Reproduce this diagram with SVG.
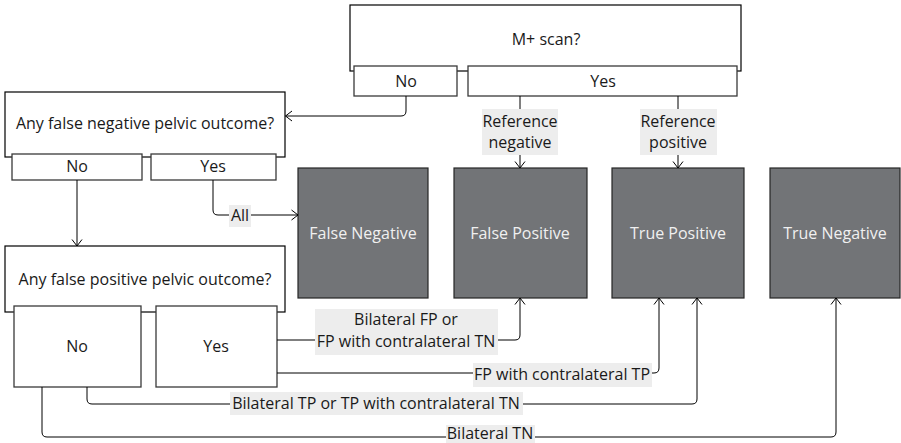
<svg xmlns="http://www.w3.org/2000/svg" width="901" height="443" viewBox="0 0 901 443">
<defs>
<style>
.box{fill:#fff;stroke:#000;stroke-width:1.2}
.sub{fill:#fff;stroke:#3a3a3a;stroke-width:1.3}
.res{fill:#727477;stroke:#262626;stroke-width:1.2}
.t{font-family:"Open Sans",Lato,sans-serif;font-size:16px;fill:#1a1a1a;text-anchor:middle}
.rt{font-family:"Open Sans",Lato,sans-serif;font-size:16px;fill:#f0f0f0;text-anchor:middle}
.lbg{fill:#ededed}
.c{fill:none;stroke:#000;stroke-width:1}
</style>
<marker id="ah" viewBox="0 0 8 12" refX="7.5" refY="6" markerWidth="8" markerHeight="12" markerUnits="userSpaceOnUse" orient="auto">
<path d="M1,1 L7.5,6 L1,11" fill="none" stroke="#000" stroke-width="1"/>
</marker>
</defs>
<rect width="901" height="443" fill="#fff"/>

<g id="mscan">
<rect class="box" x="350" y="5" width="391" height="66"/>
<text class="t" x="546" y="45">M+ scan?</text>
<rect class="sub" x="354" y="66" width="103" height="30"/>
<text class="t" x="406" y="87">No</text>
<rect class="sub" x="468" y="66" width="269" height="30"/>
<text class="t" x="603" y="87">Yes</text>
</g>

<g id="fnq">
<rect class="box" x="5" y="92" width="280" height="65"/>
<text class="t" x="145" y="129">Any false negative pelvic outcome?</text>
<rect class="sub" x="12" y="154" width="130" height="26"/>
<text class="t" x="77" y="172">No</text>
<rect class="sub" x="151" y="154" width="125" height="26"/>
<text class="t" x="213" y="172">Yes</text>
</g>

<g id="fpq">
<rect class="box" x="5" y="246" width="280" height="66"/>
<text class="t" x="145" y="285">Any false positive pelvic outcome?</text>
<rect class="sub" x="14" y="306" width="127" height="81"/>
<text class="t" x="77" y="352">No</text>
<rect class="sub" x="156" y="306" width="121" height="81"/>
<text class="t" x="216" y="352">Yes</text>
</g>

<g id="fn"><rect class="res" x="298" y="168" width="130" height="130"/><text class="rt" x="363" y="239">False Negative</text></g>
<g id="fp"><rect class="res" x="454" y="168" width="133" height="130"/><text class="rt" x="520" y="239">False Positive</text></g>
<g id="tp"><rect class="res" x="612" y="168" width="132" height="130"/><text class="rt" x="678" y="239">True Positive</text></g>
<g id="tn"><rect class="res" x="770" y="168" width="130" height="130"/><text class="rt" x="835" y="239">True Negative</text></g>

<g id="connectors">
<path class="c" d="M406,96 V111 Q406,116 401,116 H285.5" marker-end="url(#ah)"/>
<path class="c" d="M520,96 V168" marker-end="url(#ah)"/>
<path class="c" d="M678,96 V168" marker-end="url(#ah)"/>
<path class="c" d="M213,180 V210 Q213,215 218,215 H298" marker-end="url(#ah)"/>
<path class="c" d="M77,180 V246" marker-end="url(#ah)"/>
<path class="c" d="M277,340 H515 Q520,340 520,335 V298" marker-end="url(#ah)"/>
<path class="c" d="M277,373 H654 Q659,373 659,368 V298" marker-end="url(#ah)"/>
<path class="c" d="M87,387 V399 Q87,404 92,404 H692 Q697,404 697,399 V298" marker-end="url(#ah)"/>
<path class="c" d="M42,387 V432 Q42,437 47,437 H831 Q836,437 836,432 V298" marker-end="url(#ah)"/>

<rect class="lbg" x="482" y="109" width="76" height="46"/>
<text class="t" x="520" y="127">Reference</text>
<text class="t" x="520" y="148">negative</text>
<rect class="lbg" x="640" y="109" width="77" height="46"/>
<text class="t" x="678" y="127">Reference</text>
<text class="t" x="678" y="148">positive</text>
<rect class="lbg" x="229" y="205" width="22" height="22"/>
<text class="t" x="240" y="221">All</text>
<rect class="lbg" x="315" y="309" width="183" height="46"/>
<text class="t" x="406" y="325">Bilateral FP or</text>
<text class="t" x="406" y="347">FP with contralateral TN</text>
<rect class="lbg" x="473" y="363" width="179" height="24"/>
<text class="t" x="562" y="380">FP with contralateral TP</text>
<rect class="lbg" x="230" y="392" width="293" height="23"/>
<text class="t" x="376" y="409">Bilateral TP or TP with contralateral TN</text>
<rect class="lbg" x="446" y="425" width="89" height="20"/>
<text class="t" x="490" y="438.5">Bilateral TN</text>
</g>
</svg>
